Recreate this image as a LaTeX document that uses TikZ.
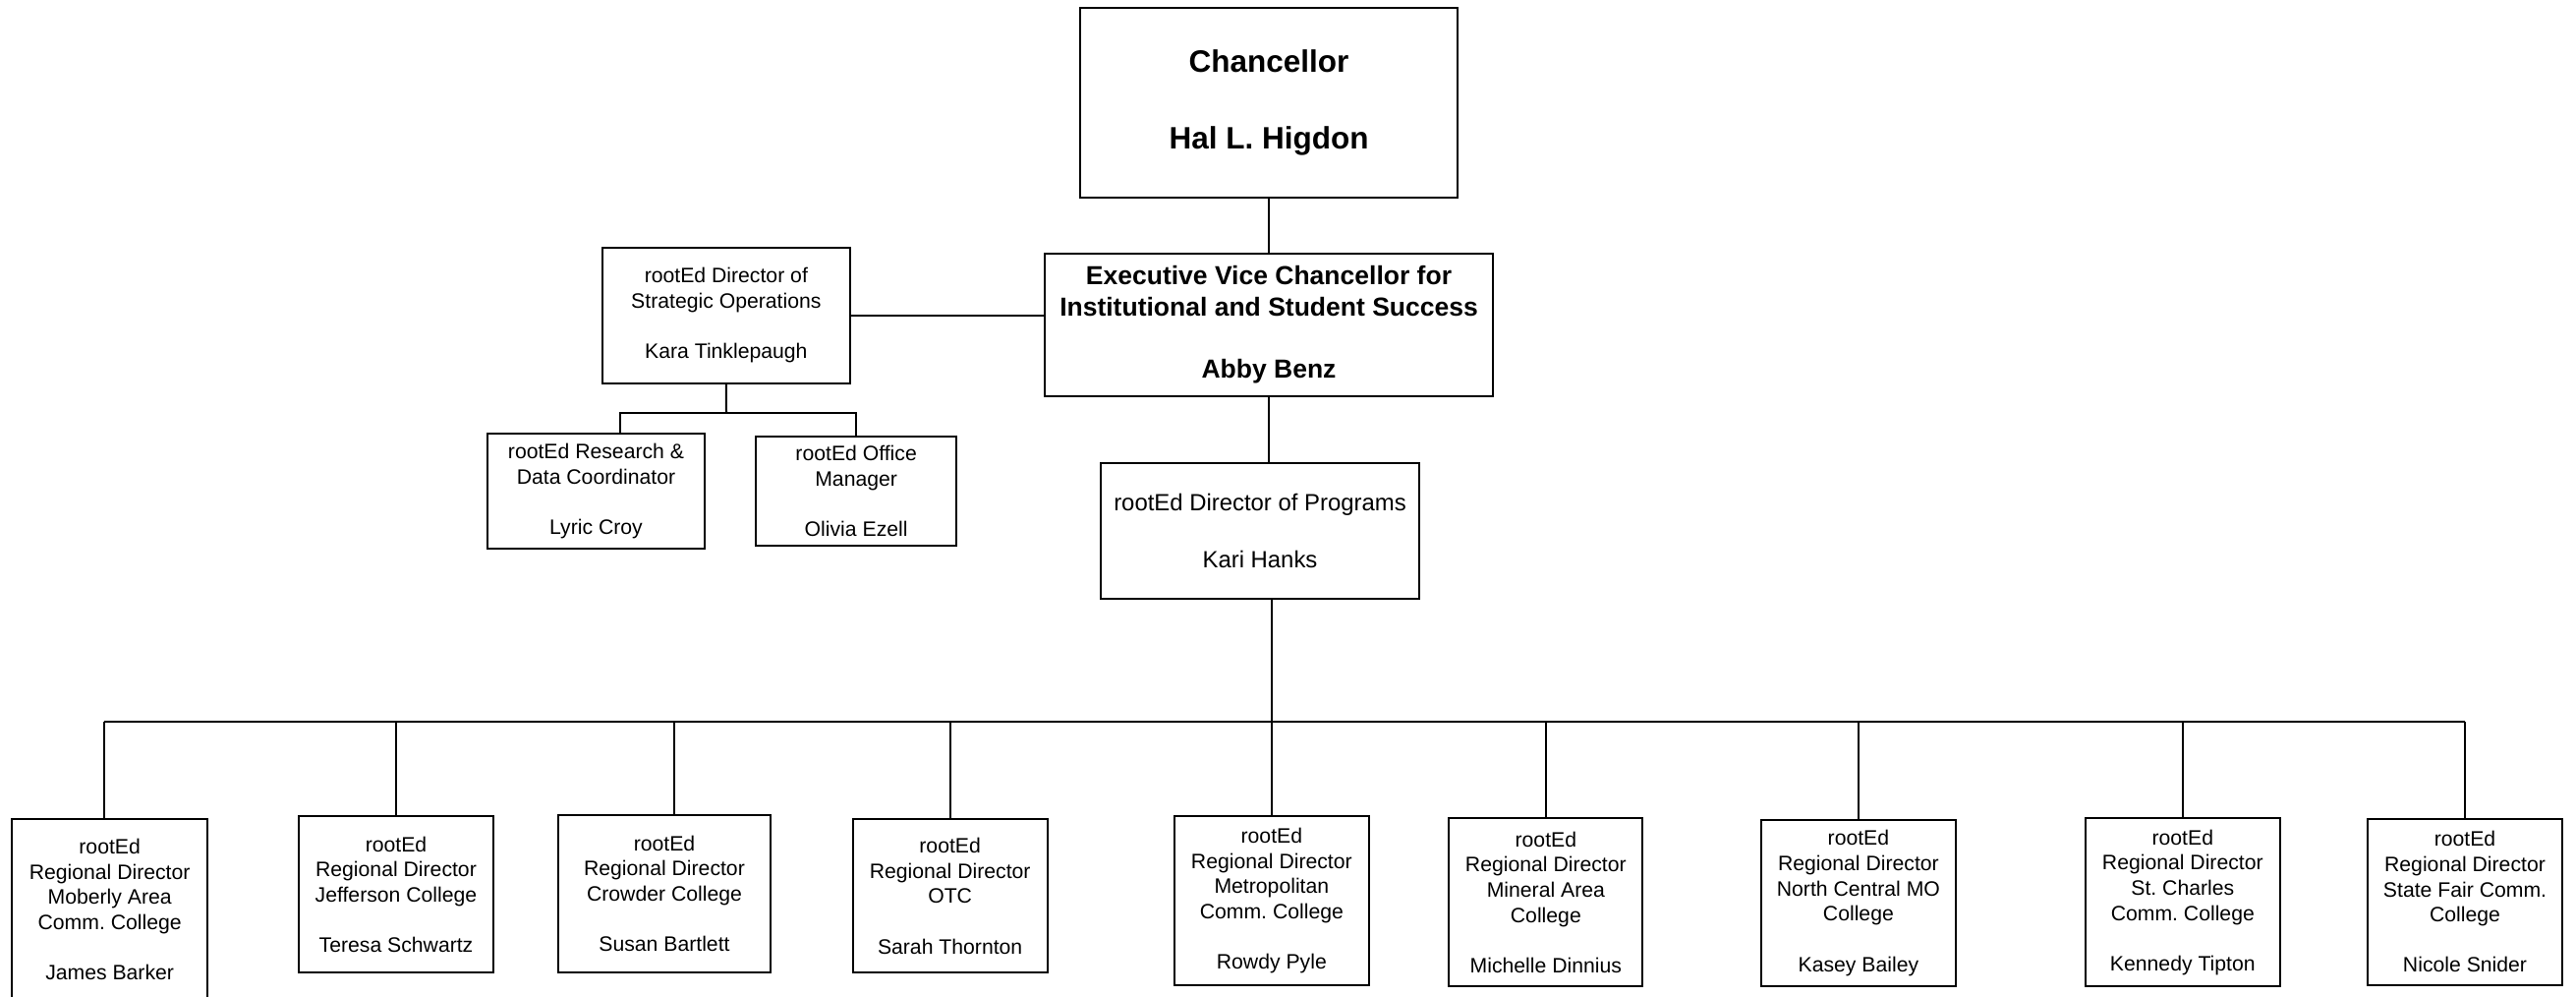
\documentclass[tikz,border=0pt]{standalone}
\usepackage{fontspec}
\setmainfont{Liberation Sans}
\usetikzlibrary{positioning}

\begin{document}
\frenchspacing
\begin{tikzpicture}[
    x = 0.5pt,
    y = -0.5pt,
    line width = 1pt,
    post/.style={draw, line width=1pt, align=center, inner sep=0pt},
    topbox/.style={post, font=\bfseries\fontsize{15.75}{19.5}\selectfont},
    evcbox/.style={post, font=\bfseries\fontsize{13.25}{15.8}\selectfont},
    midbox/.style={post, font=\fontsize{11.95}{14.35}\selectfont},
    smallbox/.style={post, font=\fontsize{10.6}{12.8}\selectfont},
    regbox/.style={smallbox, minimum width=99pt}
]
    \useasboundingbox (0,0) rectangle (2621,1013);

    % upper part
    \node[topbox, minimum width=192pt, minimum height=96.2pt] (chan) at (1291,104.5)
        {Chancellor\\[\baselineskip]Hal L. Higdon};
    \node[evcbox, minimum width=228pt, minimum height=72.5pt] (evc) at (1291,330.2)
        {Executive Vice Chancellor for\\Institutional and Student Success\\[\baselineskip]Abby Benz};
    \node[smallbox, minimum width=126.15pt, minimum height=68.85pt] (strat) at (738.85,320.85)
        {rootEd Director of\\Strategic Operations\\[\baselineskip]Kara Tinklepaugh};
    \node[smallbox, minimum width=110.8pt, minimum height=58.3pt] (research) at (606.5,499.35)
        {rootEd Research \&\\Data Coordinator\\[\baselineskip]Lyric Croy};
    \node[smallbox, minimum width=102.15pt, minimum height=55.65pt] (office) at (871.15,499.35)
        {rootEd Office\\Manager\\[\baselineskip]Olivia Ezell};
    \node[midbox, minimum width=162pt, minimum height=69.15pt] (prog) at (1282,539.85)
        {rootEd Director of Programs\\[\baselineskip]Kari Hanks};

    % regional directors
    \node[regbox, minimum width=99.35pt, minimum height=91.7pt] (moberly) at (111.65,925)
        {rootEd\\Regional Director\\Moberly Area\\Comm. College\\[\baselineskip]James Barker};
    \node[regbox, minimum height=79.65pt] (jefferson) at (403,909.65)
        {rootEd\\Regional Director\\Jefferson College\\[\baselineskip]Teresa Schwartz};
    \node[regbox, minimum width=108pt, minimum height=80.3pt] (crowder) at (676,909)
        {rootEd\\Regional Director\\Crowder College\\[\baselineskip]Susan Bartlett};
    \node[regbox, minimum height=78pt] (otc) at (966.65,911.3)
        {rootEd\\Regional Director\\OTC\\[\baselineskip]Sarah Thornton};
    \node[regbox, minimum height=85.85pt] (metro) at (1293.85,916.15)
        {rootEd\\Regional Director\\Metropolitan\\Comm. College\\[\baselineskip]Rowdy Pyle};
    \node[regbox, minimum width=98.45pt, minimum height=85.65pt] (mineral) at (1572.85,917.65)
        {rootEd\\Regional Director\\Mineral Area\\College\\[\baselineskip]Michelle Dinnius};
    \node[regbox, minimum height=84.8pt] (northcentral) at (1890.9,918.5)
        {rootEd\\Regional Director\\North Central MO\\College\\[\baselineskip]Kasey Bailey};
    \node[regbox, minimum height=85.5pt] (stcharles) at (2220.8,917.8)
        {rootEd\\Regional Director\\St. Charles\\Comm. College\\[\baselineskip]Kennedy Tipton};
    \node[regbox, minimum height=84.25pt] (statefair) at (2508,917.25)
        {rootEd\\Regional Director\\State Fair Comm.\\College\\[\baselineskip]Nicole Snider};

    % connectors
    \coordinate (sfork) at (739,420);
    \coordinate (bus) at (1294,734);

    \draw (chan.south) -- (evc.north);
    \draw (strat.east) -- (strat.east -| evc.west);
    \draw (strat.south) -- (sfork);
    \draw ([xshift=12.25pt]research.north) |- (sfork) -| (office.north);
    \draw (evc.south) -- (evc.south |- prog.north);
    \draw ([xshift=6pt]prog.south) -- (bus);
    \draw ([xshift=-2.8pt]moberly.north |- bus) -- (statefair.north |- bus);
    \foreach \n/\dx in {moberly/-2.8, jefferson/0, crowder/4.8, otc/0, metro/0,
                        mineral/0, northcentral/0, stcharles/0, statefair/0}
        \draw ([xshift=\dx pt]\n.north) -- ([xshift=\dx pt]\n.north |- bus);
\end{tikzpicture}
\end{document}
